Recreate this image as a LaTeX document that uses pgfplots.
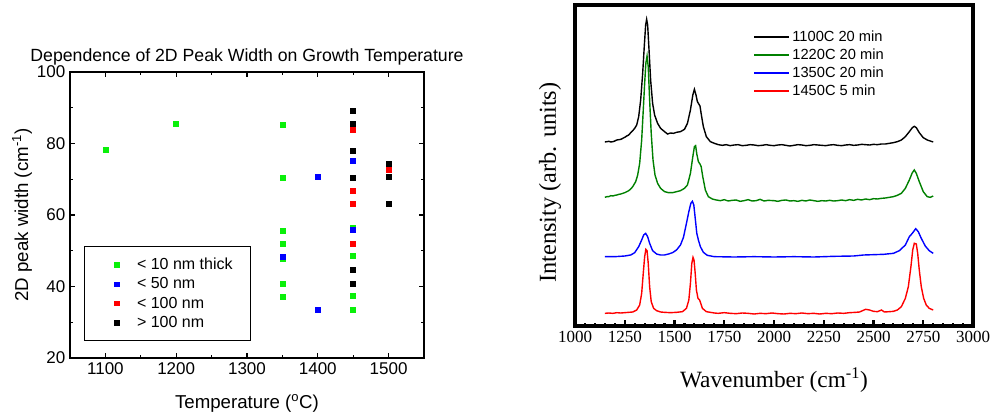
\documentclass[border=0pt]{standalone}
\usepackage{fontspec}
\setmainfont{Liberation Serif}
\setsansfont{Liberation Sans}
\usepackage{pgfplots}
\pgfplotsset{compat=1.18}
\definecolor{bgreen}{RGB}{10,240,10}
\definecolor{dgreen}{RGB}{0,128,0}
\pgfplotsset{
  sqmark/.style={only marks, mark=square*, mark size=1.9pt,
    legend image code/.code={\path[draw=none, fill=none] (0pt,-1pt) rectangle (26.5pt,1pt); \draw[##1, mark size=1.7pt] plot coordinates {(13.25pt,0pt)};}},
  lineleg/.style={line width=1.05pt,
    legend image code/.code={\draw[##1, line width=1.4pt] (0pt,0pt) -- (26pt,0pt);}},
}
\begin{document}
\begin{tikzpicture}
\useasboundingbox (0,0) rectangle (745.5pt,310.5pt);
% ---------------- Left panel ----------------
\begin{axis}[
  at={(52.5pt,42pt)}, anchor=south west,
  scale only axis, width=265.5pt, height=214.5pt,
  xmin=1050, xmax=1550, ymin=20, ymax=100,
  xtick={1100,1200,1300,1400,1500}, minor x tick num=1,
  ytick={20,40,60,80,100}, minor y tick num=1,
  tick align=inside, major tick length=4pt, minor tick length=2.5pt,
  axis line style={line width=1pt}, every tick/.style={line width=0.9pt, black},
  /pgf/number format/assume math mode=true,
  /pgf/number format/1000 sep={},
  tick label style={font=\sffamily\fontsize{12.75}{14}\selectfont},
  title={Dependence of 2D Peak Width on Growth Temperature},
  title style={font=\sffamily\fontsize{13.25}{15}\selectfont, at={(0.5,1.0524)}, anchor=center, yshift=-6pt},
  xlabel={Temperature (\textsuperscript{o}C)},
  xlabel style={font=\sffamily\fontsize{14}{16}\selectfont, at={(0.5,-0.1573)}, anchor=center},
  ylabel={2D peak width (cm\textsuperscript{-1})},
  ylabel style={font=\sffamily\fontsize{14}{16}\selectfont, at={(-0.1356,0.5)}, anchor=center},
  legend style={draw=black, line width=0.6pt, at={(0.0395,0.059)}, anchor=south west,
    font=\sffamily\fontsize{12}{14}\selectfont, inner xsep=11pt, inner ysep=6.5pt,
    row sep=0.6pt, cells={anchor=west},
    /tikz/every even column/.append style={column sep=1pt}},
]
\addplot[sqmark, color=bgreen] coordinates {
 (1100,78.3) (1200,85.5) (1350,85.2) (1350,70.4) (1350,55.5) (1350,52.0) (1350,47.8) (1350,40.7) (1350,37.1)
 (1450,56.3) (1450,48.6) (1450,37.3) (1450,33.5)};
\addlegendentry{< 10 nm thick}
\addplot[sqmark, color=blue] coordinates {
 (1350,48.2) (1400,70.6) (1400,33.5) (1450,75.1) (1450,55.8)};
\addlegendentry{< 50 nm}
\addplot[sqmark, color=red] coordinates {
 (1450,83.8) (1450,66.8) (1450,63.2) (1450,52.0) (1500,72.8)};
\addlegendentry{< 100 nm}
\addplot[sqmark, color=black] coordinates {
 (1450,89.1) (1450,85.5) (1450,78.0) (1450,70.4) (1450,44.7) (1450,40.7)
 (1500,74.3) (1500,70.6) (1500,63.2)};
\addlegendentry{> 100 nm}
\end{axis}
% ---------------- Right panel ----------------
\begin{axis}[
  at={(431.25pt,66pt)}, anchor=south west,
  scale only axis, width=298.5pt, height=240.75pt,
  xmin=1000, xmax=3000, ymin=22, ymax=985,
  xtick={1000,1250,1500,1750,2000,2250,2500,2750,3000}, minor x tick num=4,
  ytick=\empty, xtick pos=left,
  tick align=inside, major tick length=4.5pt, minor tick length=2pt,
  axis line style={line width=2.5pt},
  every tick/.style={line width=1.6pt, black},
  /pgf/number format/assume math mode=true,
  /pgf/number format/1000 sep={},
  tick label style={font=\rmfamily\fontsize{12.75}{14}\selectfont},
  xlabel={Wavenumber (cm\textsuperscript{-1})},
  xlabel style={font=\rmfamily\fontsize{17.5}{20}\selectfont, at={(0.5,-0.1682)}, anchor=center},
  ylabel={Intensity (arb. units)},
  ylabel style={font=\rmfamily\fontsize{18.25}{20}\selectfont, at={(-0.0628,0.447)}, anchor=center},
  legend style={draw=none, fill=none, at={(0.447,0.929)}, anchor=north west,
    font=\sffamily\fontsize{11}{13}\selectfont, inner xsep=0pt, inner ysep=0pt,
    row sep=0pt, cells={anchor=west},
    /tikz/every even column/.append style={column sep=0pt}},
]
\addplot[lineleg, color=black] coordinates {
(1150,574)(1160,575)(1170,576)(1180,574)(1190,575)(1200,577)(1210,580)(1220,581)(1230,582)(1240,585)
(1250,588)(1260,592)(1270,595)(1280,602)(1290,608)(1300,615)(1310,625)(1320,650)(1330,700)(1340,780)
(1348,860)(1355,925)(1360,942)(1365,925)(1372,850)(1380,760)(1390,690)(1400,655)(1415,630)(1430,615)
(1450,605)(1465,598)(1480,601)(1495,600)(1510,603)(1530,605)(1550,612)(1565,630)(1580,670)(1592,715)
(1600,732)(1608,715)(1615,695)(1622,688)(1628,682)(1635,655)(1645,620)(1660,590)(1680,575)(1700,570)
(1720,566)(1740,564)(1760,566)(1780,563)(1800,565)(1820,566)(1840,563)(1860,564)(1880,566)(1900,565)
(1920,563)(1940,564)(1960,566)(1980,564)(2000,563)(2020,565)(2040,566)(2060,564)(2080,562)(2100,564)
(2120,566)(2140,565)(2160,563)(2180,564)(2200,566)(2220,565)(2240,564)(2260,563)(2280,565)(2300,566)
(2320,564)(2340,563)(2360,565)(2380,566)(2400,564)(2420,565)(2440,567)(2460,566)(2480,565)(2500,567)
(2520,566)(2540,568)(2560,568)(2580,570)(2600,572)(2620,575)(2640,580)(2660,590)(2680,605)(2695,617)
(2705,621)(2715,617)(2730,602)(2750,587)(2770,580)(2785,577)(2800,574)};
\addlegendentry{1100C 20 min}
\addplot[lineleg, color=dgreen] coordinates {
(1150,408)(1160,410)(1170,410)(1180,413)(1190,412)(1200,414)(1210,415)(1220,417)(1230,418)(1240,420)
(1250,422)(1260,425)(1270,428)(1280,433)(1290,440)(1305,455)(1315,475)(1325,510)(1335,580)(1343,670)
(1350,750)(1356,810)(1362,832)(1368,800)(1375,700)(1383,600)(1392,520)(1402,475)(1415,450)(1430,435)
(1450,425)(1470,422)(1490,422)(1510,425)(1530,428)(1550,435)(1565,445)(1580,480)(1592,530)(1600,560)
(1606,563)(1612,538)(1620,515)(1628,508)(1634,500)(1642,470)(1655,430)(1670,410)(1690,403)(1710,400)
(1730,398)(1750,401)(1770,397)(1790,399)(1810,400)(1830,396)(1850,398)(1870,401)(1890,397)(1910,398)
(1930,402)(1950,397)(1970,399)(2000,398)(2020,396)(2040,399)(2060,400)(2080,397)(2100,398)(2120,396)
(2140,399)(2160,397)(2180,400)(2200,398)(2220,396)(2240,398)(2260,397)(2280,399)(2300,397)(2320,398)
(2340,400)(2360,398)(2380,401)(2400,399)(2420,402)(2440,400)(2460,403)(2480,401)(2500,404)(2520,403)
(2540,405)(2560,406)(2580,408)(2600,410)(2620,414)(2640,420)(2660,435)(2680,460)(2695,482)(2705,490)
(2715,480)(2730,455)(2750,425)(2770,410)(2785,408)(2800,412)};
\addlegendentry{1220C 20 min}
\addplot[lineleg, color=blue] coordinates {
(1150,230)(1200,230)(1250,232)(1280,235)(1300,242)(1320,260)(1335,280)(1345,295)(1355,300)(1365,290)
(1375,270)(1390,248)(1410,238)(1430,235)(1450,235)(1470,238)(1490,242)(1510,250)(1530,265)(1545,288)
(1560,330)(1572,365)(1582,390)(1590,396)(1597,385)(1605,340)(1612,300)(1620,280)(1630,260)(1645,243)
(1665,234)(1700,230)(1800,229)(1900,230)(2000,229)(2100,230)(2200,229)(2300,231)(2400,232)(2450,235)
(2500,236)(2550,237)(2600,240)(2630,248)(2660,265)(2680,290)(2695,300)(2712,314)(2725,305)(2740,285)
(2760,262)(2780,248)(2800,240)};
\addlegendentry{1350C 20 min}
\addplot[lineleg, color=red] coordinates {
(1150,60)(1170,61)(1190,60)(1210,62)(1230,61)(1250,62)(1270,63)(1290,64)(1310,70)(1325,85)
(1335,120)(1343,180)(1350,230)(1356,252)(1362,248)(1368,210)(1375,140)(1383,95)(1395,75)(1410,68)
(1430,64)(1450,63)(1480,62)(1510,63)(1540,65)(1560,75)(1572,100)(1580,150)(1587,210)(1593,228)
(1598,220)(1604,180)(1610,130)(1618,105)(1626,100)(1632,90)(1640,75)(1660,65)(1700,61)(1720,60)
(1750,62)(1780,60)(1810,59)(1840,61)(1870,60)(1900,58)(1930,60)(1960,59)(1990,61)(2020,59)
(2050,58)(2080,60)(2110,59)(2140,61)(2170,59)(2200,60)(2230,58)(2260,60)(2290,59)(2320,61)
(2350,60)(2380,62)(2410,63)(2430,64)(2460,72)(2480,70)(2500,66)(2520,65)(2540,70)(2555,64)
(2580,65)(2600,66)(2620,70)(2640,80)(2660,105)(2675,140)(2688,200)(2697,250)(2705,270)(2715,268)
(2722,240)(2730,190)(2740,140)(2752,105)(2765,85)(2780,75)(2800,70)};
\addlegendentry{1450C 5 min}
\end{axis}
\end{tikzpicture}
\end{document}
